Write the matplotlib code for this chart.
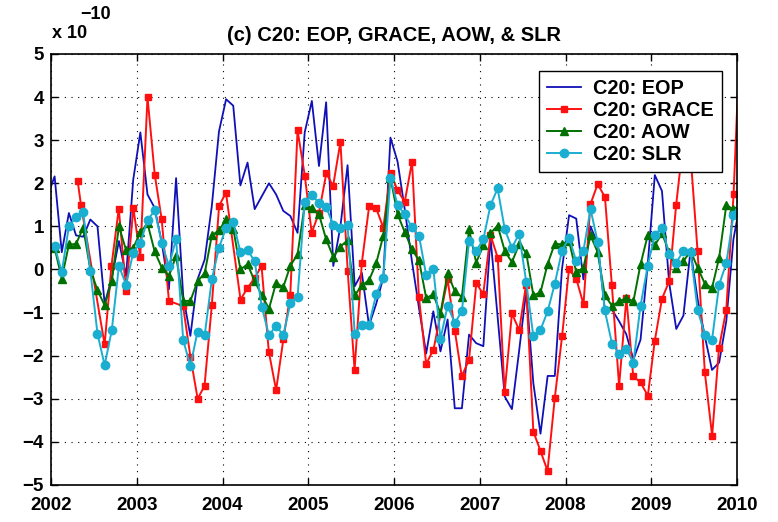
import numpy as np
import matplotlib.pyplot as plt

plt.rcParams['font.family'] = ['Liberation Sans', 'DejaVu Sans']
plt.rcParams['font.weight'] = 'bold'

# monthly series, mid-month samples (EOP starts Dec 2001, others Jan 2002), last value Jan 2010
eop = [1.7,
       2.16, 0.40, 1.31, 0.79, 0.76, 1.16, 1.0, -0.79, -0.2, 0.66, -0.15, 2.08,
       3.18, 1.74, 1.43, 0.62, -0.46, 2.12, -0.62, -1.54, -0.23, 0.23, 1.47, 3.2,
       3.95, 3.8, 1.95, 2.48, 1.40, 1.7, 2.0, 1.74, 1.36, 1.24, 0.85, 3.18,
       3.91, 2.40, 3.88, 0.08, 1.0, 2.42, -0.39, -0.08, -1.3, -0.8, -0.19, 3.06,
       2.5, 1.4, 0.2, -0.9, -1.95, -0.97, -1.9, -1.16, -3.22, -3.22, -1.51, -1.71,
       -1.78, 0.74, -1.1, -2.95, -3.24, -1.9, -0.5, -2.64, -3.81, -2.47, -2.47, 0.0,
       1.26, 1.18, -0.23, 1.0, 0.6, -0.93, -0.93, -1.2, -1.5, -2.09, -1.63, 0.1,
       2.19, 1.82, -0.3, -1.38, -1.07, 0.45, -0.7, -1.55, -2.33, -2.16, -1.2, 0.7,
       1.6]

aow = [0.50, -0.21, 0.58, 0.59, 0.97, 0.0, -0.48, -0.83, -0.27, 1.00, 0.45, 0.50,
       0.86, 1.07, 0.42, 0.04, -0.15, 0.31, -0.73, -0.73, -0.27, -0.09, 0.79, 0.91,
       1.16, 0.95, 0.0, 0.12, -0.27, -0.6, -0.91, -0.31, -0.41, 0.09, 0.35, 1.5,
       1.43, 1.28, 0.70, 0.29, 0.53, 0.68, -0.60, -0.37, -0.25, 0.14, 0.78, 2.13,
       1.28, 0.87, 0.47, 0.21, -0.66, -0.58, -1.02, -0.09, -0.50, -0.64, 0.93, 0.16,
       0.56, 0.84, 1.02, 0.43, 0.17, 0.58, 0.39, -0.60, -0.53, 0.13, 0.60, 0.58,
       0.66, -0.06, 0.04, 0.79, 0.40, -0.60, -0.84, -0.74, -0.66, -0.74, 0.12, 0.79,
       0.56, 0.84, 0.40, 0.04, 0.19, 0.43, 0.04, -0.33, -0.43, 0.27, 1.49, 1.40,
       1.5]

slr = [0.54, -0.06, 1.00, 1.21, 1.33, -0.03, -1.49, -2.22, -1.41, 0.08, -0.35, 0.39,
       0.62, 1.14, 1.37, 0.62, 0.08, 0.71, -1.64, -2.24, -1.44, -1.53, -0.23, 0.50,
       0.97, 1.10, 0.40, 0.45, 0.19, -0.87, -1.53, -1.30, -1.53, -0.78, -0.64, 1.57,
       1.72, 1.55, 1.45, 1.03, 0.97, 1.03, -1.49, -1.28, -1.28, -0.58, -0.19, 2.13,
       1.49, 1.28, 0.98, 0.78, -0.13, 0.02, -1.61, -0.84, -1.24, -0.97, 0.66, 0.43,
       0.70, 1.49, 1.88, 0.93, 0.50, 0.83, -0.29, -1.55, -1.40, -0.97, -0.33, 0.43,
       0.74, 0.19, 0.43, 1.40, 0.64, -0.95, -1.72, -1.95, -1.84, -2.16, -0.84, 0.08,
       0.81, 0.97, 0.36, 0.16, 0.43, 0.40, -0.95, -1.51, -1.64, -0.35, 0.14, 1.26,
       1.6]

# GRACE has gaps and uneven dates
grace_t = [2002.31, 2002.35, 2002.625, 2002.705, 2002.79, 2002.875, 2002.96,
           2003.04, 2003.125, 2003.21, 2003.29, 2003.375, 2003.54, 2003.625, 2003.71, 2003.79, 2003.875, 2003.96,
           2004.04, 2004.21, 2004.29, 2004.375, 2004.455, 2004.54, 2004.625, 2004.71, 2004.79, 2004.875, 2004.96,
           2005.04, 2005.125, 2005.21, 2005.29, 2005.375, 2005.46, 2005.54, 2005.625, 2005.71, 2005.79, 2005.875, 2005.96,
           2006.04, 2006.125, 2006.21, 2006.29, 2006.375, 2006.46, 2006.625, 2006.71, 2006.79, 2006.875, 2006.96,
           2007.04, 2007.125, 2007.21, 2007.29, 2007.375, 2007.46, 2007.54, 2007.625, 2007.71, 2007.79, 2007.875, 2007.96,
           2008.04, 2008.125, 2008.21, 2008.29, 2008.375, 2008.46, 2008.54, 2008.625, 2008.71, 2008.79, 2008.875, 2008.96,
           2009.04, 2009.125, 2009.21, 2009.29, 2009.375, 2009.46, 2009.54, 2009.625, 2009.71, 2009.79, 2009.875, 2009.96,
           2010.04]
grace = [2.06, 1.49, -1.74, 0.09, 1.41, -0.50, 1.43,
         0.29, 4.0, 2.19, 1.17, -0.73, -0.85, -2.02, -3.0, -2.70, -0.83, 1.48,
         1.78, -0.70, -0.43, -0.2, 0.08, -1.91, -2.80, -1.61, -0.60, 3.23, 2.17,
         0.85, 1.32, 2.23, 1.94, 2.96, -0.04, -2.33, 0.16, 1.47, 1.43, 0.97, 2.25,
         1.84, 1.57, 2.50, -0.64, -2.19, -1.86, -0.23, -1.43, -2.48, -2.09, -0.31,
         -0.58, 0.8, 0.27, -2.85, -1.02, -1.41, -0.35, -3.76, -4.22, -4.67, -2.98, -1.55,
         0.0, -0.21, -0.81, 1.51, 1.98, 1.68, -0.35, -2.70, -0.66, -2.48, -2.62, -2.93,
         -1.67, -0.68, -0.27, 1.49, 3.0, 2.6, 0.43, -2.39, -3.86, -1.82, -0.93, 1.74,
         5.6]

t_eop = 2002 + (np.arange(-1, len(eop) - 1) + 0.5) / 12
t_mon = 2002 + (np.arange(len(slr)) + 0.5) / 12

fig = plt.figure(figsize=(7.78, 5.22), dpi=100)
ax = fig.add_axes([0.0656, 0.0709, 0.8817, 0.8257])

ax.plot(t_eop, eop, color='#1010b8', lw=1.3, label='C20: EOP')
ax.plot(grace_t, grace, color='#ff1010', lw=1.4, marker='s', ms=5, label='C20: GRACE')
ax.plot(t_mon, aow, color='#007000', lw=1.4, marker='^', ms=6, label='C20: AOW')
ax.plot(t_mon, slr, color='#1aaed0', lw=1.4, marker='o', ms=6, label='C20: SLR')

ax.set_xlim(2002, 2010)
ax.set_ylim(-5, 5)
ax.set_xticks(range(2002, 2011))
ax.set_yticks(range(-5, 6))
ax.tick_params(direction='in', top=True, right=True, labelsize=13.5, length=5, width=1)
ax.tick_params(axis='x', pad=9)
ax.tick_params(axis='y', pad=5)
for s in ax.spines.values():
    s.set_linewidth(1.2)
ax.grid(True, color='black', linestyle=(0, (1, 5)), linewidth=0.8)
for lab in ax.get_xticklabels() + ax.get_yticklabels():
    lab.set_fontweight('bold')

ax.set_title('(c) C20: EOP, GRACE, AOW, & SLR', fontsize=14.5, fontweight='bold', pad=9)
fig.text(0.067, 0.935, 'x 10', fontsize=13, fontweight='bold', ha='left', va='center')
fig.text(0.103, 0.972, '\u221210', fontsize=13, fontweight='bold', ha='left', va='center')

leg = ax.legend(loc='upper right', bbox_to_anchor=(0.978, 0.961), borderaxespad=0,
                fontsize=14.3, frameon=True, fancybox=False, framealpha=1, edgecolor='black',
                handlelength=1.7, borderpad=0.42, labelspacing=0.15, handletextpad=0.6)
leg.get_frame().set_linewidth(1.0)
for t in leg.get_texts():
    t.set_fontweight('bold')

plt.savefig('out.png', dpi=100)
